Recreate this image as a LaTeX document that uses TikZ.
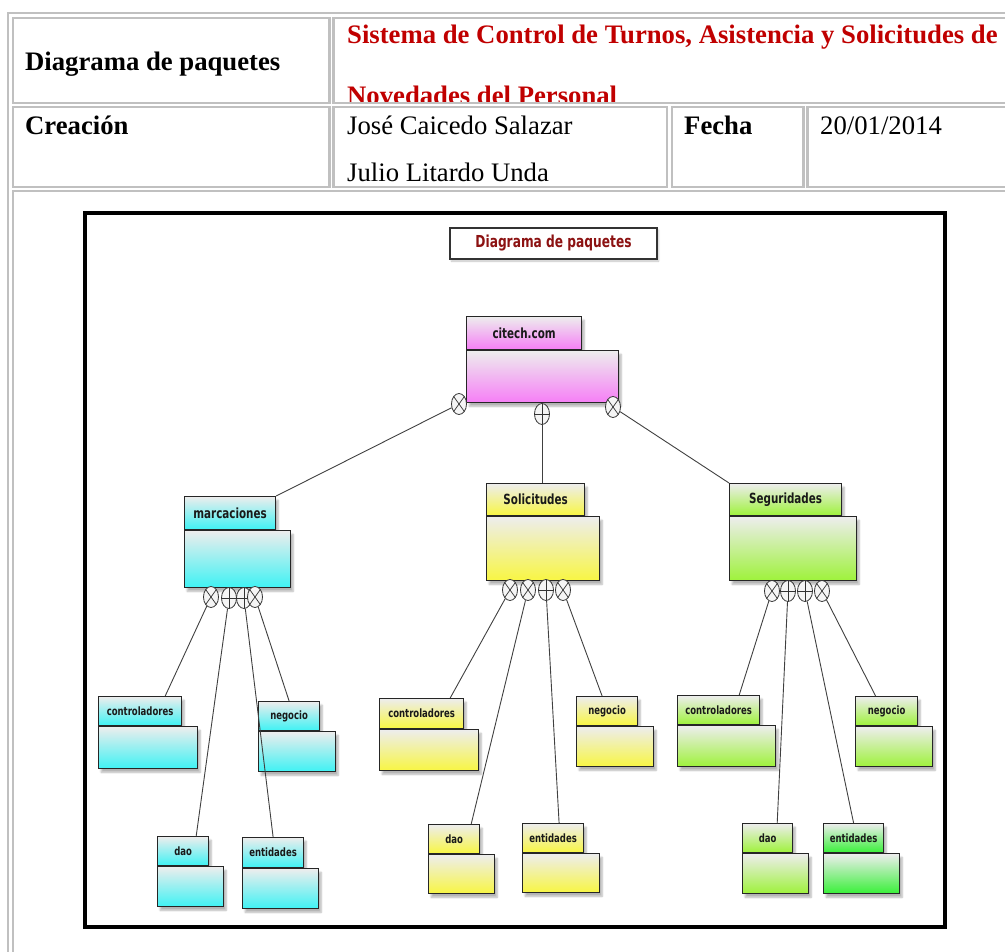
\documentclass[tikz,border=0pt]{standalone}
\usepackage{fontspec}
\setmainfont{Liberation Serif}
\newfontfamily\pkgfont[FakeStretch=0.74]{DejaVu Sans}
\usetikzlibrary{shapes.geometric,shadows.blur}

\definecolor{tablegray}{RGB}{192,192,192}
\definecolor{titlered}{RGB}{192,0,0}
\definecolor{boxred}{RGB}{140,18,18}
\definecolor{pkgmagenta}{RGB}{246,126,246}
\definecolor{pkgcyan}{RGB}{62,242,244}
\definecolor{pkgyellow}{RGB}{248,246,66}
\definecolor{pkglime}{RGB}{158,242,58}
\definecolor{pkggreen}{RGB}{56,240,56}
\definecolor{linkgray}{RGB}{64,64,64}

\tikzset{
  cell/.style={draw=tablegray, line width=2.2pt},
  celltext/.style={anchor=base west, inner sep=0pt, font=\fontsize{26.7}{32}\selectfont},
  pkg/.style={draw=black!85, line width=1.2pt, inner sep=0pt, anchor=north west,
    top color=black!7, bottom color=#1,
    blur shadow={shadow xshift=2.5pt, shadow yshift=-3.5pt, shadow opacity=30, shadow blur steps=6}},
  bigtab/.style={pkg=#1, font=\pkgfont\bfseries\fontsize{14}{16}\selectfont, text=black!90},
  smalltab/.style={pkg=#1, font=\pkgfont\bfseries\fontsize{11.5}{13}\selectfont, text=black!90},
  iface/.style={ellipse, draw=black!80, line width=0.8pt, fill=black!4,
    minimum width=15pt, minimum height=21pt, inner sep=0pt},
  ifx/.style={iface, path picture={\draw[line width=0.7pt]
    (path picture bounding box.north west) -- (path picture bounding box.south east)
    (path picture bounding box.north east) -- (path picture bounding box.south west);}},
  ifp/.style={iface, path picture={\draw[line width=0.7pt]
    (path picture bounding box.north) -- (path picture bounding box.south)
    (path picture bounding box.west) -- (path picture bounding box.east);}},
  link/.style={draw=linkgray, line width=0.9pt},
}

\begin{document}
\begin{tikzpicture}[x=1pt,y=-1pt]
  \useasboundingbox (0,0) rectangle (1005,952);
  \clip (0,0) rectangle (1005,952);

  % tabla de cabecera
  \draw[cell] (7.7,13.3) rectangle (1020,970);
  \draw[cell] (12.8,18.3) rectangle (329.5,103.3);
  \draw[cell] (333.5,18.3) rectangle (1020,103.3);
  \draw[cell] (12.8,107.2) rectangle (329.5,187.2);
  \draw[cell] (333.5,107.2) rectangle (667,187.2);
  \draw[cell] (672,107.2) rectangle (803.5,187.2);
  \draw[cell] (807.5,107.2) rectangle (1020,187.2);
  \draw[cell] (12.8,191) rectangle (1020,970);

  \node[celltext, font=\fontsize{26.7}{32}\selectfont\bfseries] (diag) at (25,71) {Diagrama de paquetes};
  \node[celltext, font=\fontsize{26.7}{32}\selectfont\bfseries, text=titlered] (sistema) at (347,44)
    {Sistema de Control de Turnos, Asistencia y Solicitudes de};
  \begin{scope}
    \clip (335,20) rectangle (1005,101.5);
    \node[celltext, font=\fontsize{26.7}{32}\selectfont\bfseries, text=titlered] (novedades) at (347,105)
      {Novedades del Personal};
  \end{scope}
  \node[celltext, font=\fontsize{26.7}{32}\selectfont\bfseries] (creacion) at (25,135) {Creación};
  \node[celltext] (autor1) at (347,135) {José Caicedo Salazar};
  \node[celltext] (autor2) at (347,182) {Julio Litardo Unda};
  \node[celltext, font=\fontsize{26.7}{32}\selectfont\bfseries] (fecha) at (684,135) {Fecha};
  \node[celltext] (dia) at (820,135) {20/01/2014};

  % marco del diagrama
  \draw[line width=4pt] (84.7,213) rectangle (945.3,926.5);
  \node[draw=black!80, fill=white, line width=1.8pt, minimum width=207pt, minimum height=31pt, inner sep=0pt,
    text=boxred, font=\pkgfont\bfseries\fontsize{16.5}{18}\selectfont,
    blur shadow={shadow xshift=1.5pt, shadow yshift=-2pt, shadow opacity=25}] (titulo) at (553.5,243.5)
    {Diagrama de paquetes};

  % paquetes principales
  \node[bigtab=pkgmagenta, minimum width=115pt, minimum height=33pt] (citech-tab) at (466,316) {citech.com};
  \node[pkg=pkgmagenta, minimum width=152pt, minimum height=52pt] (citech) at (citech-tab.south west) {};

  \node[bigtab=pkgcyan, minimum width=91pt, minimum height=33pt] (marc-tab) at (184,496) {marcaciones};
  \node[pkg=pkgcyan, minimum width=106pt, minimum height=57pt] (marc) at (marc-tab.south west) {};

  \node[bigtab=pkgyellow, minimum width=98pt, minimum height=32pt] (soli-tab) at (486,483) {Solicitudes};
  \node[pkg=pkgyellow, minimum width=113pt, minimum height=64pt] (soli) at (soli-tab.south west) {};

  \node[bigtab=pkglime, minimum width=112pt, minimum height=32pt] (segu-tab) at (729,483) {Seguridades};
  \node[pkg=pkglime, minimum width=127pt, minimum height=64pt] (segu) at (segu-tab.south west) {};

  % paquetes de marcaciones
  \node[smalltab=pkgcyan, minimum width=83pt, minimum height=29pt] (mctrl-tab) at (98,696) {controladores};
  \node[pkg=pkgcyan, minimum width=99pt, minimum height=42pt] (mctrl) at (mctrl-tab.south west) {};
  \node[smalltab=pkgcyan, minimum width=61pt, minimum height=29pt] (mneg-tab) at (258,701) {negocio};
  \node[pkg=pkgcyan, minimum width=77pt, minimum height=40pt] (mneg) at (mneg-tab.south west) {};
  \node[smalltab=pkgcyan, minimum width=51pt, minimum height=29pt] (mdao-tab) at (157,836) {dao};
  \node[pkg=pkgcyan, minimum width=66pt, minimum height=40pt] (mdao) at (mdao-tab.south west) {};
  \node[smalltab=pkgcyan, minimum width=61pt, minimum height=30pt] (ment-tab) at (242,837) {entidades};
  \node[pkg=pkgcyan, minimum width=76pt, minimum height=40pt] (ment) at (ment-tab.south west) {};

  % paquetes de solicitudes
  \node[smalltab=pkgyellow, minimum width=84pt, minimum height=30pt] (sctrl-tab) at (379,698) {controladores};
  \node[pkg=pkgyellow, minimum width=99pt, minimum height=41pt] (sctrl) at (sctrl-tab.south west) {};
  \node[smalltab=pkgyellow, minimum width=61pt, minimum height=29pt] (sneg-tab) at (576,696) {negocio};
  \node[pkg=pkgyellow, minimum width=77pt, minimum height=40pt] (sneg) at (sneg-tab.south west) {};
  \node[smalltab=pkgyellow, minimum width=51pt, minimum height=29pt] (sdao-tab) at (428,824) {dao};
  \node[pkg=pkgyellow, minimum width=66pt, minimum height=39pt] (sdao) at (sdao-tab.south west) {};
  \node[smalltab=pkgyellow, minimum width=61pt, minimum height=29pt] (sent-tab) at (522,823) {entidades};
  \node[pkg=pkgyellow, minimum width=77pt, minimum height=39pt] (sent) at (sent-tab.south west) {};

  % paquetes de seguridades
  \node[smalltab=pkglime, minimum width=82pt, minimum height=29pt] (gctrl-tab) at (677,695) {controladores};
  \node[pkg=pkglime, minimum width=98pt, minimum height=41pt] (gctrl) at (gctrl-tab.south west) {};
  \node[smalltab=pkglime, minimum width=62pt, minimum height=29pt] (gneg-tab) at (855,696) {negocio};
  \node[pkg=pkglime, minimum width=77pt, minimum height=40pt] (gneg) at (gneg-tab.south west) {};
  \node[smalltab=pkglime, minimum width=50pt, minimum height=29pt] (gdao-tab) at (742,823) {dao};
  \node[pkg=pkglime, minimum width=66pt, minimum height=40pt] (gdao) at (gdao-tab.south west) {};
  \node[smalltab=pkggreen, minimum width=60pt, minimum height=29pt] (gent-tab) at (823,823) {entidades};
  \node[pkg=pkggreen, minimum width=76pt, minimum height=40pt] (gent) at (gent-tab.south west) {};

  % interfaces
  \node[ifx] (c1) at (459,404) {};
  \node[ifp] (c2) at (542,414) {};
  \node[ifx] (c3) at (613,407) {};
  \node[ifx] (m1) at (211,597) {};
  \node[ifp] (m2) at (229,598) {};
  \node[ifp] (m3) at (244,598) {};
  \node[ifx] (m4) at (255,597) {};
  \node[ifx] (s1) at (510,590) {};
  \node[ifx] (s2) at (528,590) {};
  \node[ifp] (s3) at (546,590) {};
  \node[ifx] (s4) at (563,590) {};
  \node[ifx] (g1) at (772,591) {};
  \node[ifp] (g2) at (788,591) {};
  \node[ifp] (g3) at (805,591) {};
  \node[ifx] (g4) at (822,591) {};

  % conexiones
  \draw[link] (c1) -- (marc-tab.north east);
  \draw[link] (c2) -- (c2 |- soli-tab.north);
  \draw[link] (c3) -- (segu-tab.north west);
  \draw[link] (m1) -- ([xshift=-17pt]mctrl-tab.north east);
  \draw[link] (m2) -- ([xshift=-13pt]mdao-tab.north east);
  \draw[link] (m3) -- (ment-tab.north);
  \draw[link] (m4) -- (mneg-tab.north);
  \draw[link] (s1) -- ([xshift=-14pt]sctrl-tab.north east);
  \draw[link] (s2) -- ([xshift=-9pt]sdao-tab.north east);
  \draw[link] (s3) -- ([xshift=6pt]sent-tab.north);
  \draw[link] (s4) -- ([xshift=-5pt]sneg-tab.north);
  \draw[link] (g1) -- ([xshift=-21pt]gctrl-tab.north east);
  \draw[link] (g2) -- ([xshift=-16pt]gdao-tab.north east);
  \draw[link] (g3) -- (gent-tab.north);
  \draw[link] (g4) -- ([xshift=-11pt]gneg-tab.north);
\end{tikzpicture}
\end{document}
